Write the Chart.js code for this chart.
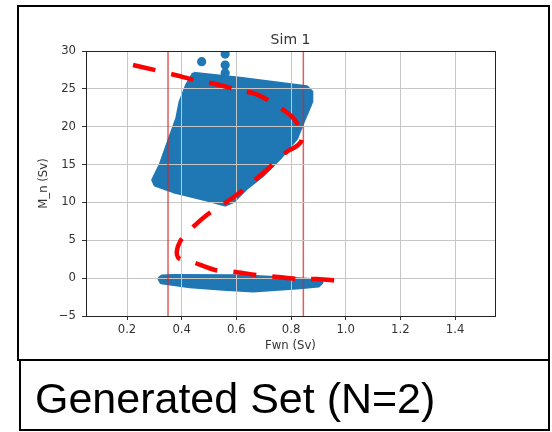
<!DOCTYPE html>
<html>
<head>
<meta charset="utf-8">
<script src="https://cdn.jsdelivr.net/npm/chart.js@4.4.1/dist/chart.umd.min.js"></script>
<style>
  html, body { margin: 0; padding: 0; background: #fff; }
  body { width: 552px; height: 432px; position: relative; overflow: hidden; }
  #plot { position: absolute; left: 0; top: 0; }
  .frame { position: absolute; border: 2px solid #000; box-sizing: border-box; }
  #panel { left: 17px; top: 5px; width: 533px; height: 356px; }
  #caption { left: 19px; top: 359px; width: 531px; height: 72px; }
  #captionText {
    position: absolute; left: 35px; top: 377px;
    font: 43px/43px 'Liberation Sans', Arial, sans-serif;
    color: #000; white-space: nowrap;
  }
</style>
</head>
<body>
<canvas id="plot" width="552" height="358"></canvas>
<div class="frame" id="panel"></div>
<div class="frame" id="caption"></div>
<div id="captionText">Generated Set (N=2)</div>
<script>
// === Axes ===
const xTicks = [0.2, 0.4, 0.6, 0.8, 1.0, 1.2, 1.4];
const yTicks = [-5, 0, 5, 10, 15, 20, 25, 30];

// Upper state cloud (outline, Fwn / M_n)
const upperX = [0.443, 0.614, 0.858, 0.876, 0.876, 0.858, 0.845, 0.821, 0.760, 0.699, 0.638, 0.589, 0.559, 0.492, 0.369, 0.302, 0.294, 0.321, 0.351, 0.382, 0.394, 0.418, 0.443];
const upperY = [27.05, 26.39, 25.28, 24.62, 23.30, 21.77, 20.66, 18.47, 15.83, 13.62, 11.87, 10.10, 9.66, 10.32, 11.42, 12.30, 12.96, 14.94, 18.02, 21.11, 23.30, 25.51, 27.05];

// Lower state cloud (outline)
const lowerX = [0.316, 0.328, 0.369, 0.614, 0.760, 0.906, 0.913, 0.900, 0.833, 0.662, 0.552, 0.430, 0.345, 0.325, 0.316];
const lowerY = [-0.05, 0.28, 0.36, 0.32, 0.06, -0.25, -0.60, -1.05, -1.26, -1.70, -1.48, -1.13, -0.72, -0.60, -0.05];

// Isolated runs above the upper cloud
const strayX = [0.473, 0.559, 0.559, 0.559];
const strayY = [28.59, 29.60, 28.15, 27.10];

// Hand-drawn S curve (dashed)
const sketchX = [0.222, 0.300, 0.376, 0.455, 0.522, 0.607, 0.675, 0.754, 0.803, 0.830, 0.840, 0.836, 0.815, 0.784, 0.711, 0.668, 0.601, 0.547, 0.492, 0.430, 0.395, 0.382, 0.390, 0.437, 0.522, 0.589, 0.675, 0.742, 0.827, 0.894, 0.979];
const sketchY = [28.15, 27.50, 26.83, 26.10, 25.65, 24.85, 24.28, 22.64, 21.32, 20.00, 18.90, 18.00, 17.30, 16.70, 14.28, 12.96, 10.98, 9.66, 8.34, 6.36, 4.90, 3.49, 2.60, 2.17, 1.07, 0.85, 0.41, 0.19, -0.12, -0.12, -0.38];

// Vertical thresholds
const thresholdX = [0.35, 0.845];

const BLUE = '#1f77b4';
const GRID = '#c6c6c6';
const INK = '#333';
const FONT = 'DejaVu Sans';

const toPoints = (xs, ys) => xs.map((x, i) => ({ x: x, y: ys[i] }));

// grid lines drawn again over the clouds (opaque, so repeating is harmless)
function drawGrid(chart) {
  const { ctx, chartArea: a, scales } = chart;
  ctx.save();
  ctx.strokeStyle = GRID;
  ctx.lineWidth = 1;
  ctx.beginPath();
  scales.x.ticks.forEach(t => {
    const px = Math.round(scales.x.getPixelForValue(t.value) - 0.5) + 0.5;
    ctx.moveTo(px, a.top);
    ctx.lineTo(px, a.bottom);
  });
  scales.y.ticks.forEach(t => {
    const py = Math.round(scales.y.getPixelForValue(t.value) - 0.5) + 0.5;
    ctx.moveTo(a.left, py);
    ctx.lineTo(a.right, py);
  });
  ctx.stroke();
  ctx.restore();
}

const axesDecor = {
  id: 'axesDecor',
  beforeDatasetDraw(chart, args) {
    if (chart.data.datasets[args.index].gridBelow) drawGrid(chart);
  },
  afterDatasetsDraw(chart) {
    const { ctx, chartArea: a } = chart;
    ctx.save();
    ctx.strokeStyle = '#222';
    ctx.lineWidth = 1;
    ctx.strokeRect(a.left + 0.5, a.top + 0.5, a.right - a.left, a.bottom - a.top);
    ctx.fillStyle = INK;
    ctx.font = '14px ' + FONT;
    ctx.textAlign = 'center';
    ctx.textBaseline = 'alphabetic';
    ctx.fillText('Sim 1', (a.left + a.right) / 2, 44);
    ctx.restore();
  }
};

const tickFont = { family: FONT, size: 11.7 };

new Chart(document.getElementById('plot'), {
  type: 'scatter',
  data: {
    datasets: [
      {
        type: 'line',
        data: toPoints(sketchX, sketchY),
        borderColor: '#ff0000',
        borderWidth: 4.5,
        borderDash: [23, 16],
        tension: 0.3,
        pointRadius: 0,
        fill: false,
        order: 0
      },
      ...thresholdX.map(x => ({
        type: 'line',
        data: [{ x: x, y: -5 }, { x: x, y: 30 }],
        borderColor: 'rgba(214,39,40,0.75)',
        borderWidth: 1.5,
        pointRadius: 0,
        fill: false,
        order: 1,
        gridBelow: true
      })),
      {
        data: toPoints(strayX, strayY),
        backgroundColor: BLUE,
        pointRadius: 4.6,
        borderWidth: 0,
        order: 2
      },
      {
        type: 'line',
        data: toPoints(upperX, upperY),
        fill: 'shape',
        backgroundColor: BLUE,
        borderColor: BLUE,
        borderWidth: 3,
        borderJoinStyle: 'round',
        pointRadius: 0,
        order: 2
      },
      {
        type: 'line',
        data: toPoints(lowerX, lowerY),
        fill: 'shape',
        backgroundColor: BLUE,
        borderColor: BLUE,
        borderWidth: 3,
        borderJoinStyle: 'round',
        pointRadius: 0,
        order: 2
      }
    ]
  },
  options: {
    responsive: false,
    animation: false,
    layout: { padding: { left: 0, right: 57, top: 51, bottom: 0 } },
    plugins: { legend: { display: false }, tooltip: { enabled: false } },
    scales: {
      x: {
        type: 'linear',
        bounds: 'data',
        min: 0.05,
        max: 1.546,
        afterBuildTicks: s => { s.ticks = xTicks.map(v => ({ value: v })); },
        afterFit: s => { s.height = 42; },
        ticks: { callback: v => v.toFixed(1), color: INK, font: tickFont, padding: 3, maxRotation: 0 },
        grid: { color: GRID, lineWidth: 1, tickColor: INK, tickLength: 4 },
        border: { color: '#222', width: 1 },
        title: { display: true, text: 'Fwn (Sv)', color: INK, font: tickFont, padding: { top: 0, bottom: 5 } }
      },
      y: {
        type: 'linear',
        bounds: 'data',
        min: -5,
        max: 30,
        afterBuildTicks: s => { s.ticks = yTicks.map(v => ({ value: v })); },
        afterFit: s => { s.width = 86; },
        ticks: { callback: v => v < 0 ? '\u2212' + (-v) : String(v), color: INK, font: tickFont, padding: 6 },
        grid: { color: GRID, lineWidth: 1, tickColor: INK, tickLength: 4 },
        border: { color: '#222', width: 1 },
        title: { display: true, text: 'M_n (Sv)', color: INK, font: tickFont, padding: { top: 37, bottom: 0 } }
      }
    }
  },
  plugins: [axesDecor]
});
</script>
</body>
</html>
